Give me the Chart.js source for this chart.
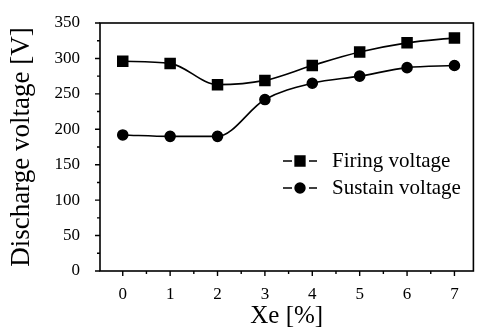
<!DOCTYPE html>
<html>
<head>
<meta charset="utf-8">
<script src="https://cdn.jsdelivr.net/npm/chart.js@4/dist/chart.umd.min.js"></script>
<style>
  html, body { margin: 0; padding: 0; background: #fff; }
  #wrap { width: 482px; height: 333px; }
</style>
</head>
<body>
<div id="wrap"><canvas id="c" width="482" height="333"></canvas></div>
<script>
// Xe content of the gas mixture [%]
const xePercent = [0, 1, 2, 3, 4, 5, 6, 7];
// Discharge voltages [V]
const firingVoltage = [296, 293, 263, 269, 290, 309, 322, 329];
const sustainVoltage = [192, 190, 190, 242, 265, 275, 287, 290];
const seriesNames = ['Firing voltage', 'Sustain voltage'];
const xTicks = [0, 1, 2, 3, 4, 5, 6, 7];
const yTicks = [0, 50, 100, 150, 200, 250, 300, 350];

const FONT = "'Liberation Serif', 'Times New Roman', serif";

const toPoints = (xs, ys) => xs.map((x, i) => ({ x: x, y: ys[i] }));

// Frame, major/minor tick marks and the inset legend
const framePlugin = {
  id: 'frame',
  afterDraw(chart) {
    const ctx = chart.ctx;
    const a = chart.chartArea;
    const xs = chart.scales.x, ys = chart.scales.y;
    ctx.save();
    ctx.strokeStyle = '#000';
    ctx.lineWidth = 1.6;
    ctx.strokeRect(a.left, a.top, a.right - a.left, a.bottom - a.top);

    ctx.lineWidth = 1.4;
    ctx.beginPath();
    for (let v = 0; v <= 350; v += 25) {
      const py = ys.getPixelForValue(v);
      const len = v % 50 === 0 ? 5 : 3;
      ctx.moveTo(a.left - len, py);
      ctx.lineTo(a.left, py);
    }
    for (let v = 0; v <= 7; v += 0.5) {
      const px = xs.getPixelForValue(v);
      const len = Number.isInteger(v) ? 5 : 3;
      ctx.moveTo(px, a.bottom);
      ctx.lineTo(px, a.bottom + len);
    }
    ctx.stroke();

    // legend
    const rows = [
      { ds: chart.data.datasets[0], y: a.top + 138 },
      { ds: chart.data.datasets[1], y: a.top + 165 }
    ];
    const mx = a.left + 200;
    rows.forEach(r => {
      ctx.lineWidth = 1.4;
      ctx.beginPath();
      ctx.moveTo(mx - 17, r.y); ctx.lineTo(mx - 8, r.y);
      ctx.moveTo(mx + 9, r.y); ctx.lineTo(mx + 17, r.y);
      ctx.stroke();
      Chart.helpers.drawPoint(ctx, {
        pointStyle: r.ds.pointStyle,
        radius: r.ds.pointRadius,
        rotation: 0,
        borderWidth: 1
      }, mx, r.y);
      ctx.fillStyle = '#000';
      ctx.fill();
      ctx.font = '21px ' + FONT;
      ctx.textBaseline = 'middle';
      ctx.textAlign = 'left';
      ctx.fillText(r.ds.label, mx + 32, r.y);
    });
    ctx.restore();
  }
};

new Chart(document.getElementById('c'), {
  type: 'line',
  data: {
    datasets: [
      {
        label: seriesNames[0],
        data: toPoints(xePercent, firingVoltage),
        borderColor: '#000',
        backgroundColor: '#000',
        borderWidth: 1.6,
        pointStyle: 'rect',
        pointRadius: 7,
        cubicInterpolationMode: 'monotone',
        fill: false
      },
      {
        label: seriesNames[1],
        data: toPoints(xePercent, sustainVoltage),
        borderColor: '#000',
        backgroundColor: '#000',
        borderWidth: 1.6,
        pointStyle: 'circle',
        pointRadius: 5,
        cubicInterpolationMode: 'monotone',
        fill: false
      }
    ]
  },
  options: {
    responsive: false,
    animation: false,
    layout: { padding: { top: 23, right: 5, left: 0, bottom: 0 } },
    plugins: {
      legend: { display: false },
      tooltip: { enabled: false }
    },
    scales: {
      x: {
        type: 'linear',
        min: -0.48,
        max: 7.4,
        afterBuildTicks: s => { s.ticks = xTicks.map(v => ({ value: v })); },
        afterFit: s => { s.height = 62; },
        grid: { display: false },
        border: { display: false },
        ticks: {
          color: '#000',
          font: { family: FONT, size: 17 },
          padding: 5
        },
        title: {
          display: true,
          text: 'Xe [%]',
          color: '#000',
          font: { family: FONT, size: 25 },
          padding: { top: 0, bottom: 2 }
        }
      },
      y: {
        min: 0,
        max: 350,
        afterBuildTicks: s => { s.ticks = yTicks.map(v => ({ value: v })); },
        afterFit: s => { s.width = 100; },
        grid: { display: false },
        border: { display: false },
        ticks: {
          color: '#000',
          font: { family: FONT, size: 17 },
          padding: 12
        },
        title: {
          display: true,
          text: 'Discharge voltage [V]',
          color: '#000',
          font: { family: FONT, size: 27 },
          padding: { top: 6, bottom: 0 }
        }
      }
    }
  },
  plugins: [framePlugin]
});
</script>
</body>
</html>
